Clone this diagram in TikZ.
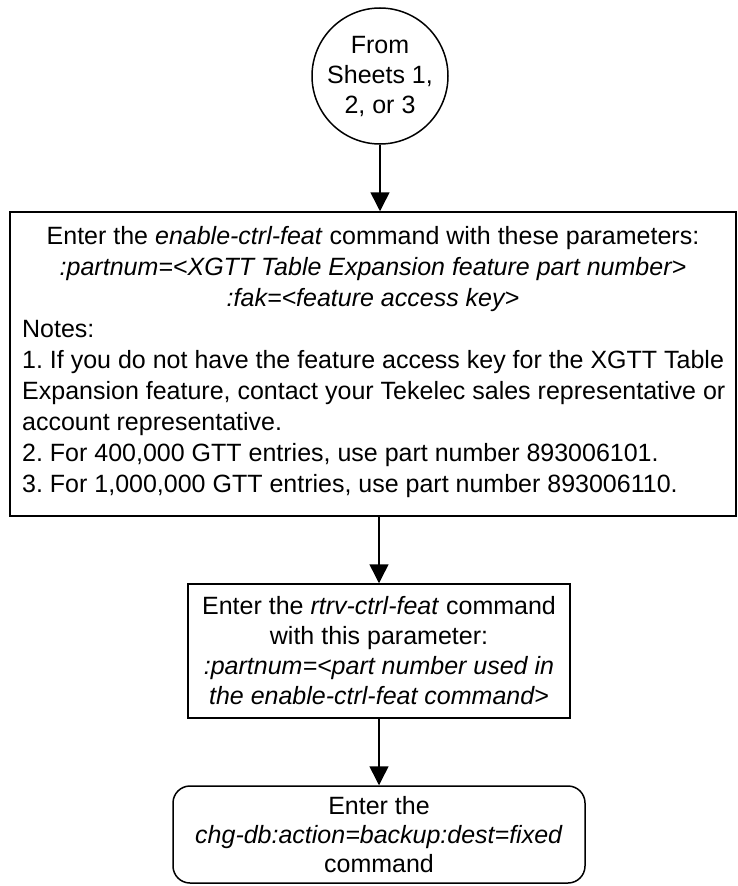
\documentclass[tikz,border=0pt]{standalone}
\usepackage{fontspec}
\setmainfont{Liberation Sans}
\usetikzlibrary{arrows.meta}
\frenchspacing
\begin{document}
\begin{tikzpicture}[x=1pt,y=-1pt,
  every node/.style={font=\fontsize{25}{30}\selectfont\frenchspacing, inner sep=0pt},
  flow/.style={line width=1.5pt, -{Triangle[width=19pt,length=19pt]}},
  boxline/.style={draw, line width=1.5pt},
  bigtext/.style={font=\fontsize{25}{31}\selectfont\frenchspacing},
]
\useasboundingbox (0,0) rectangle (737,886);
\node[boxline, circle, minimum size=136pt, align=center] (start) at (380,76) {From\\Sheets 1,\\2, or 3};
\node[boxline, rectangle, minimum width=726pt, minimum height=304pt] (enable) at (373,364) {};
\node[bigtext, align=center] (enablehead) at (373,269) {Enter the \textit{enable-ctrl-feat} command with these parameters:\\\textit{:partnum=<XGTT Table Expansion feature part number>}\\\textit{:fak=<feature access key>}};
\node[bigtext, align=left, anchor=west] (enablenotes) at (22,409) {Notes:\\1. If you do not have the feature access key for the XGTT Table\\Expansion feature, contact your Tekelec sales representative or\\account representative.\\2. For 400,000 GTT entries, use part number 893006101.\\3. For 1,000,000 GTT entries, use part number 893006110.};
\node[boxline, rectangle, minimum width=382pt, minimum height=134pt, align=center] (rtrv) at (379,651) {Enter the \textit{rtrv-ctrl-feat} command\\with this parameter:\\\textit{:partnum=<part number used in}\\\textit{the enable-ctrl-feat command>}};
\node[boxline, rectangle, rounded corners=17pt, minimum width=412pt, minimum height=97pt, align=center, font=\fontsize{25}{29}\selectfont\frenchspacing] (chgdb) at (379,834.5) {Enter the\\\textit{chg-db:action=backup:dest=fixed}\\command};
\draw[flow] (start.south) -- (start.south |- enable.north);
\draw[flow] (rtrv.north |- enable.south) -- (rtrv.north);
\draw[flow] (rtrv.south) -- (chgdb.north);
\end{tikzpicture}
\end{document}
